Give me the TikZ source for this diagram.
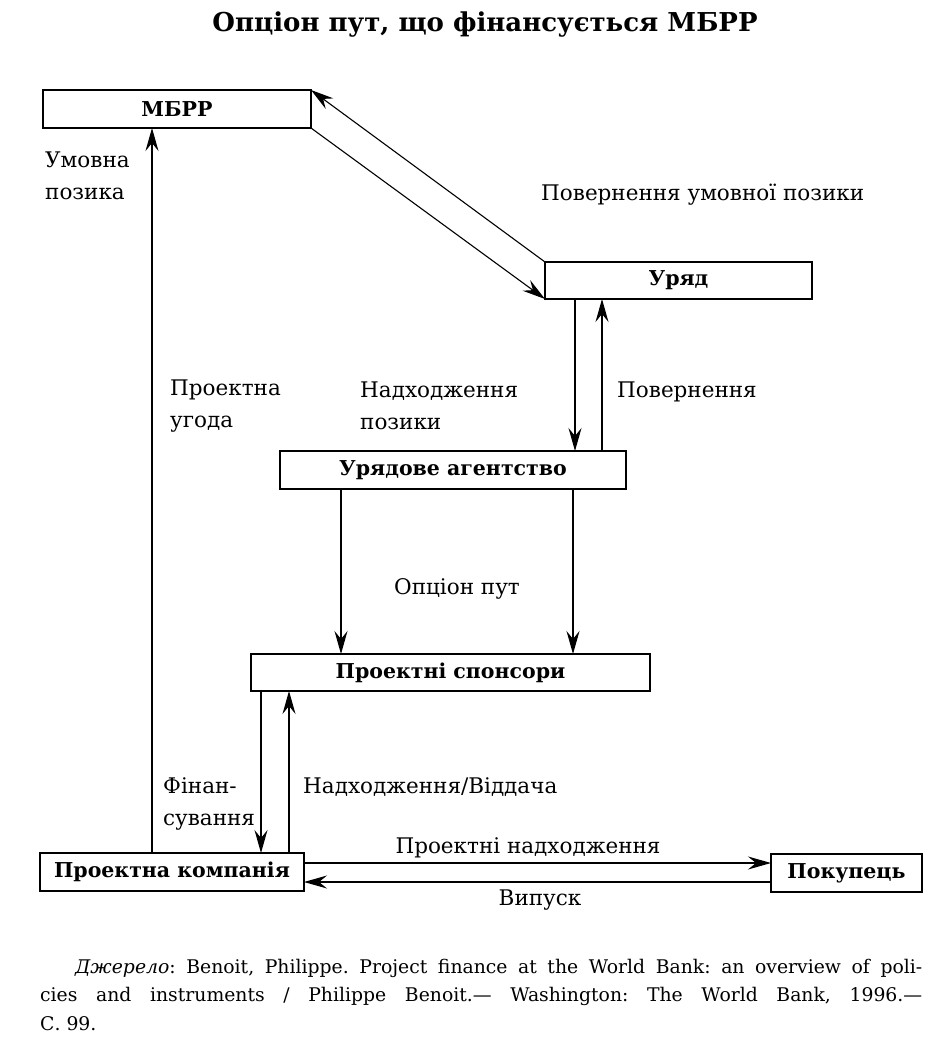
\documentclass[tikz,border=0pt]{standalone}
\usepackage{fontspec}
\setmainfont{DejaVu Serif}
\usetikzlibrary{arrows.meta}
\tikzset{
  box/.style={draw, line width=1.1pt, inner sep=0pt, outer sep=0pt, font=\fontsize{20.5}{24}\selectfont\bfseries},
  arr/.style={line width=1.1pt, -{Stealth[length=23pt,width=13pt,inset=8pt]}},
  lbl/.style={inner sep=0pt, font=\fontsize{21.5}{32}\selectfont, align=left},
  captxt/.style={inner sep=0pt, anchor=west, font=\fontsize{18.8}{28}\selectfont\frenchspacing},
}
\begin{document}
\begin{tikzpicture}[x=1pt,y=-1pt]
\useasboundingbox (0,0) rectangle (942,1053);
% title
\node[inner sep=0pt, font=\fontsize{26}{30}\selectfont\bfseries] (title) at (485,25) {Опціон пут, що фінансується МБРР};
% boxes
\node[box, minimum width=268pt, minimum height=38pt] (mbrr) at (177,109) {МБРР};
\node[box, minimum width=267pt, minimum height=37pt] (ur) at (678.5,280.5) {Уряд};
\node[box, minimum width=346pt, minimum height=38pt] (ag) at (453,470) {Урядове агентство};
\node[box, minimum width=399pt, minimum height=37pt] (sp) at (450.5,672.5) {Проектні спонсори};
\node[box, minimum width=264pt, minimum height=38pt] (pk) at (172,872) {Проектна компанія};
\node[box, minimum width=151pt, minimum height=38pt] (bu) at (846.5,873) {Покупець};
% column coordinates
\coordinate (c152) at (152,0);
\coordinate (c575) at (575,0);
\coordinate (c602) at (602,0);
\coordinate (c341) at (341,0);
\coordinate (c573) at (573,0);
\coordinate (c261) at (261,0);
\coordinate (c289) at (289,0);
\coordinate (r863) at (0,863);
\coordinate (r882) at (0,882);
% connectors
\draw[arr] (mbrr.south east) -- (ur.south west);
\draw[arr] (ur.north west) -- (mbrr.north east);
\draw[arr] (c575 |- ur.south) -- (c575 |- ag.north);
\draw[arr] (c602 |- ag.north) -- (c602 |- ur.south);
\draw[arr] (c341 |- ag.south) -- (c341 |- sp.north);
\draw[arr] (c573 |- ag.south) -- (c573 |- sp.north);
\draw[arr] (c261 |- sp.south) -- (c261 |- pk.north);
\draw[arr] (c289 |- pk.north) -- (c289 |- sp.south);
\draw[arr] (c152 |- pk.north) -- (c152 |- mbrr.south);
\draw[arr] (pk.east |- r863) -- (bu.west |- r863);
\draw[arr] (bu.west |- r882) -- (pk.east |- r882);
% labels
\node[lbl, anchor=west] (l1) at (45,176) {Умовна\\позика};
\node[lbl, anchor=west] (l2) at (541,195) {Повернення умовної позики};
\node[lbl, anchor=west] (l3) at (170,406) {Проектна\\угода};
\node[lbl, anchor=west] (l4) at (360,406) {Надходження\\позики};
\node[lbl, anchor=west] (l5) at (617,392) {Повернення};
\node[lbl] (l6) at (457,589) {Опціон пут};
\node[lbl, anchor=west] (l7) at (163,804) {Фінан-\\сування};
\node[lbl, anchor=west] (l8) at (303,787) {Надходження/Віддача};
\node[lbl] (l9) at (528,848) {Проектні надходження};
\node[lbl] (l10) at (540,900) {Випуск};
% caption
\node[captxt] (cap1) at (75,968)
  {\makebox[847pt][s]{\textit{Джерело}: Benoit, Philippe. Project finance at the World Bank: an overview of poli-}};
\node[captxt] (cap2) at (40,996)
  {\makebox[882pt][s]{cies and instruments / Philippe Benoit.— Washington: The World Bank, 1996.—}};
\node[captxt] (cap3) at (40,1024) {С. 99.};
\end{tikzpicture}
\end{document}
